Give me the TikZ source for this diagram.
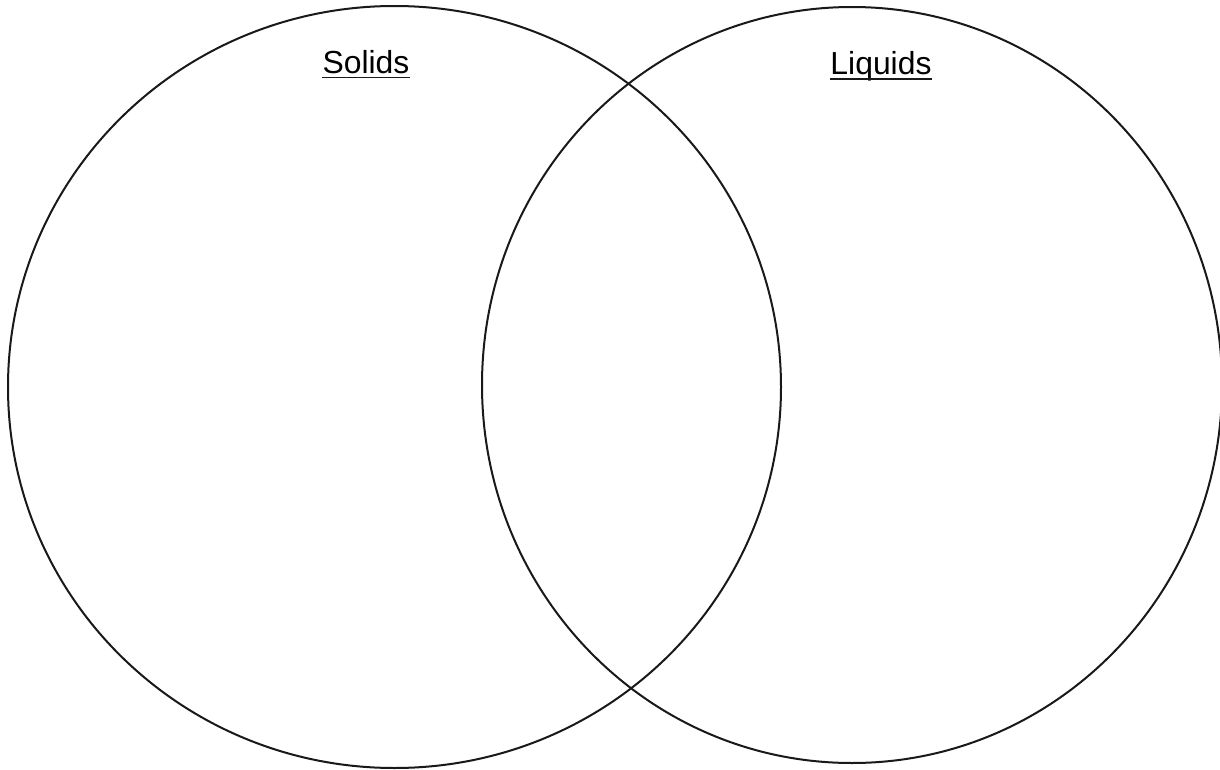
\documentclass[tikz,border=0pt]{standalone}
\usepackage{fontspec}
\setmainfont{Liberation Sans}
\begin{document}
\begin{tikzpicture}[x=1bp,y=-1bp,
  ring/.style={draw=black!90,line width=2bp},
  title/.style={inner sep=0pt,anchor=base,font=\fontsize{32}{36}\selectfont},
  uline/.style={draw=black!90,line width=1.8bp}]
\useasboundingbox (0,0) rectangle (1220,770);
\draw[ring] (394.5,387) ellipse [x radius=386.5,y radius=381];
\draw[ring] (852,385) ellipse [x radius=370,y radius=378];
\node[title] (s) at (366,74) {Solids};
\node[title] (l) at (881,75) {Liquids};
\draw[uline] ([yshift=-3.5bp]s.base west) -- ([yshift=-3.5bp]s.base east);
\draw[uline] ([yshift=-4bp]l.base west) -- ([yshift=-4bp]l.base east);
\end{tikzpicture}
\end{document}
